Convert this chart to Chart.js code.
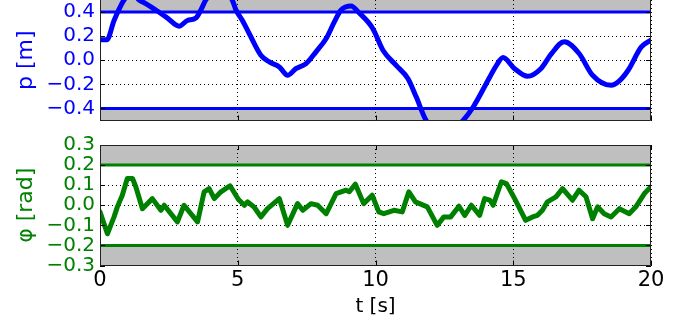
<!DOCTYPE html>
<html>
<head>
<meta charset="utf-8">
<script src="https://cdn.jsdelivr.net/npm/chart.js@4.4.1/dist/chart.umd.min.js"></script>
<style>
  html, body { margin: 0; padding: 0; background: #fff; }
  #wrap { position: relative; width: 689px; height: 320px; overflow: hidden; }
  canvas { position: absolute; left: 0; }
  #cTop { top: 0; }
  #cBot { top: 130px; }
</style>
</head>
<body>
<div id="wrap">
  <canvas id="cTop" width="689" height="124"></canvas>
  <canvas id="cBot" width="689" height="190"></canvas>
</div>
<script>
// ---- data ----
const tP = [0, 0.25, 0.51, 0.87, 1.15, 1.42, 1.66, 2.02, 2.45, 2.87, 3.17, 3.48, 3.66, 3.84, 4.35, 4.8, 4.93, 5.17, 5.42, 5.84, 6.15, 6.51, 6.81, 7.11, 7.48, 7.84, 8.21, 8.51, 8.75, 9.11, 9.42, 9.9, 10.27, 10.75, 11.18, 11.48, 11.84, 12.5, 13.18, 13.54, 14.15, 14.39, 14.63, 15.05, 15.52, 16.0, 16.39, 16.85, 17.39, 17.88, 18.55, 18.87, 19.17, 19.65, 20];
const p  = [0.17, 0.17, 0.33, 0.5, 0.56, 0.5, 0.47, 0.417, 0.35, 0.283, 0.33, 0.35, 0.417, 0.5, 0.62, 0.5, 0.42, 0.33, 0.22, 0.042, -0.014, -0.056, -0.125, -0.07, -0.028, 0.07, 0.18, 0.32, 0.417, 0.45, 0.39, 0.264, 0.083, -0.042, -0.153, -0.306, -0.5, -0.65, -0.5, -0.39, -0.139, -0.042, 0.022, -0.07, -0.133, -0.07, 0.056, 0.153, 0.056, -0.125, -0.208, -0.167, -0.083, 0.111, 0.167];

const tPhi = [0, 0.27, 0.51, 0.63, 0.81, 0.99, 1.18, 1.3, 1.54, 1.9, 2.21, 2.33, 2.81, 3.05, 3.54, 3.78, 3.96, 4.15, 4.39, 4.72, 5.02, 5.24, 5.36, 5.6, 5.84, 6.08, 6.51, 6.81, 7.17, 7.36, 7.66, 7.9, 8.21, 8.57, 8.93, 9.05, 9.27, 9.57, 9.88, 10.12, 10.3, 10.67, 10.97, 11.21, 11.45, 11.88, 12.24, 12.48, 12.73, 13.03, 13.24, 13.48, 13.78, 13.96, 14.15, 14.27, 14.57, 14.75, 15.05, 15.45, 15.7, 15.88, 16.06, 16.24, 16.55, 16.79, 17.15, 17.39, 17.64, 17.88, 18.06, 18.3, 18.55, 18.85, 19.21, 19.45, 19.76, 20];
const phi  = [-0.033, -0.142, -0.058, -0.008, 0.05, 0.133, 0.133, 0.092, -0.017, 0.033, -0.025, 0, -0.083, 0, -0.083, 0.067, 0.083, 0.033, 0.067, 0.097, 0.03, 0, 0.017, -0.01, -0.058, -0.017, 0.033, -0.1, 0.008, -0.025, 0.008, 0, -0.042, 0.058, 0.075, 0.067, 0.105, 0.008, 0.05, -0.033, -0.042, -0.025, -0.033, 0.067, 0.017, -0.008, -0.1, -0.058, -0.058, -0.005, -0.05, 0, -0.05, 0.033, 0.025, 0, 0.117, 0.108, 0.033, -0.075, -0.058, -0.05, -0.025, 0.017, 0.042, 0.083, 0.025, 0.075, 0.042, -0.067, -0.008, -0.042, -0.058, -0.017, -0.042, -0.008, 0.058, 0.092];

const pLimits = [-0.4, 0.4];
const phiLimits = [-0.2, 0.2];
const xTicks = [0, 5, 10, 15, 20];
const pTicks = [-0.4, -0.2, 0.0, 0.2, 0.4];
const phiTicks = [-0.3, -0.2, -0.1, 0.0, 0.1, 0.2, 0.3];

// ---- helpers ----
const BLUE = '#0000ff', GREEN = '#008000', GRAY = '#bfbfbf';
const FONT = "'DejaVu Sans', sans-serif";
const fmt = v => (v < -1e-9 ? '\u2212' : '') + Math.abs(v).toFixed(1);
const pts = (xs, ys) => xs.map((x, i) => ({ x: x, y: ys[i] }));

const framePlugin = {
  id: 'frame',
  beforeDraw(chart, args, opts) {
    const { ctx, chartArea: a, scales: { y } } = chart;
    const yHi = y.getPixelForValue(opts.limits[1]);
    const yLo = y.getPixelForValue(opts.limits[0]);
    ctx.save();
    ctx.fillStyle = GRAY;
    ctx.fillRect(a.left, a.top, a.right - a.left, yHi - a.top);
    ctx.fillRect(a.left, yLo, a.right - a.left, a.bottom - yLo);
    ctx.restore();
  },
  afterDraw(chart, args, opts) {
    const { ctx, chartArea: a, scales: { x, y } } = chart;
    ctx.save();
    ctx.strokeStyle = '#000';
    ctx.lineWidth = 1;
    ctx.beginPath();
    x.ticks.forEach(t => {
      const px = Math.round(x.getPixelForValue(t.value)) + 0.5;
      ctx.moveTo(px, a.bottom); ctx.lineTo(px, a.bottom - 5);
      if (opts.top) { ctx.moveTo(px, a.top); ctx.lineTo(px, a.top + 5); }
    });
    y.ticks.forEach(t => {
      const py = Math.round(y.getPixelForValue(t.value)) + 0.5;
      ctx.moveTo(a.left, py); ctx.lineTo(a.left + 5, py);
      ctx.moveTo(a.right, py); ctx.lineTo(a.right - 5, py);
    });
    ctx.stroke();
    ctx.strokeStyle = '#222';
    ctx.beginPath();
    const L = Math.round(a.left) + 0.5, R = Math.round(a.right) - 0.5;
    const T = opts.top ? Math.round(a.top) + 0.5 : a.top - 2;
    const B = Math.round(a.bottom) - 0.5;
    ctx.moveTo(L, T); ctx.lineTo(L, B); ctx.lineTo(R, B); ctx.lineTo(R, T);
    if (opts.top) ctx.lineTo(L, T);
    ctx.stroke();
    ctx.restore();
  }
};

function gridOpts() {
  return { color: '#000', lineWidth: 1, drawTicks: false };
}

function makeChart(id, cfg) {
  return new Chart(document.getElementById(id), {
    type: 'line',
    data: { datasets: cfg.datasets },
    plugins: [framePlugin],
    options: {
      responsive: false,
      animation: false,
      events: [],
      layout: { padding: { left: 0, right: 38, top: cfg.padTop, bottom: 0 } },
      plugins: {
        legend: { display: false },
        tooltip: { enabled: false },
        frame: { limits: cfg.limits, top: cfg.frameTop }
      },
      scales: {
        x: {
          type: 'linear', min: 0, max: 20,
          afterBuildTicks: s => { s.ticks = xTicks.map(v => ({ value: v })); },
          afterFit: s => { s.height = cfg.xHeight; s.paddingLeft = 0; s.paddingRight = 0; },
          grid: gridOpts(),
          border: { display: false, dash: [1, 3] },
          ticks: {
            display: cfg.xLabels, color: '#000', padding: 2, autoSkip: false, maxRotation: 0,
            font: { family: FONT, size: 21 },
            callback: v => String(v)
          },
          title: {
            display: cfg.xLabels, text: 't [s]', color: '#000',
            font: { family: FONT, size: 20 }, padding: { top: 0, bottom: 1 }
          }
        },
        y: {
          type: 'linear', min: cfg.yMin, max: cfg.yMax,
          afterBuildTicks: s => { s.ticks = cfg.yTicks.map(v => ({ value: v })); },
          afterFit: s => { s.width = 100; s.paddingTop = 0; s.paddingBottom = 0; },
          grid: gridOpts(),
          border: { display: false, dash: [1, 3] },
          ticks: {
            color: cfg.color, padding: 5, autoSkip: false,
            font: { family: FONT, size: 20 },
            callback: v => fmt(v)
          },
          title: {
            display: true, text: cfg.yTitle, color: cfg.color,
            font: { family: FONT, size: 22 }, padding: { top: 13, bottom: 0 }
          }
        }
      }
    }
  });
}

function limitSets(limits, color) {
  return limits.map(v => ({
    data: [{ x: 0, y: v }, { x: 20, y: v }],
    borderColor: color, borderWidth: 3, pointRadius: 0, clip: 0
  }));
}

makeChart('cTop', {
  padTop: 0, xHeight: 3.5, xLabels: false, frameTop: false,
  yMin: -0.5, yMax: 0.5, yTicks: pTicks, color: BLUE, yTitle: 'p [m]',
  limits: pLimits,
  datasets: limitSets(pLimits, BLUE).concat([{
    data: pts(tP, p), borderColor: BLUE, borderWidth: 5, pointRadius: 0,
    cubicInterpolationMode: 'monotone', borderCapStyle: 'round', borderJoinStyle: 'round', clip: 0
  }])
});

makeChart('cBot', {
  padTop: 15, xHeight: 54.5, xLabels: true, frameTop: true,
  yMin: -0.3, yMax: 0.3, yTicks: phiTicks, color: GREEN, yTitle: '\u03c6 [rad]',
  limits: phiLimits,
  datasets: limitSets(phiLimits, GREEN).concat([{
    data: pts(tPhi, phi), borderColor: GREEN, borderWidth: 5, pointRadius: 0,
    tension: 0, borderCapStyle: 'round', borderJoinStyle: 'round', clip: 0
  }])
});
</script>
</body>
</html>
